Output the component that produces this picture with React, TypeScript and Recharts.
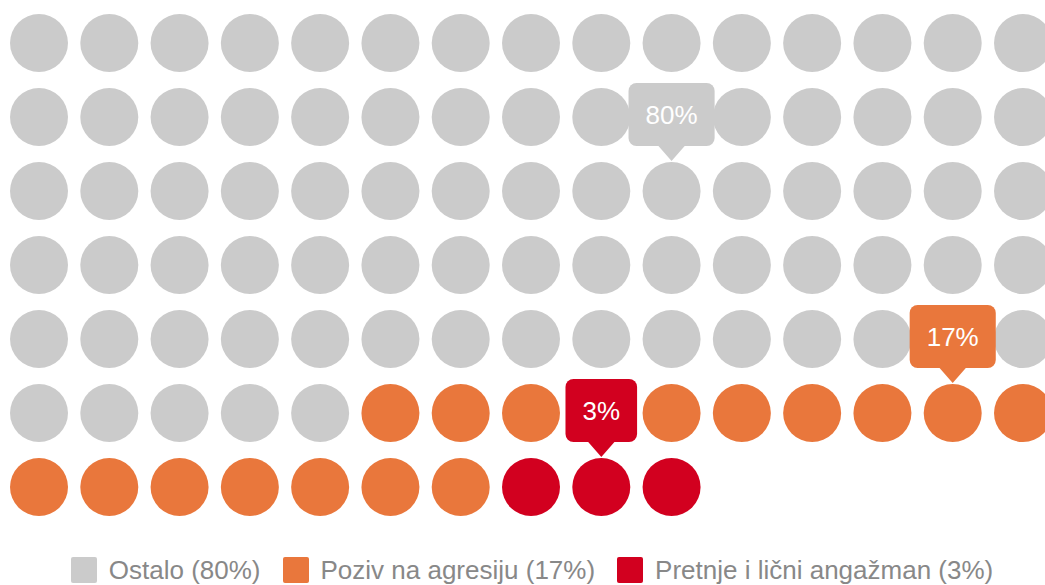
import React from 'react'
import { ScatterChart, Scatter, XAxis, YAxis } from 'recharts'

const categories = ['Ostalo', 'Poziv na agresiju', 'Pretnje i lični angažman']
const values = [80, 17, 3]
const colors = ['#cbcbcb', '#e9773c', '#d2001f']
const COLS = 15
const ROWS = 7

const FONT = '"Liberation Sans", Arial, Helvetica, sans-serif'
const R = 29

type Cell = { x: number; y: number; label?: string }

// lay the units out row by row, one series per category
const series: Cell[][] = (() => {
  const out: Cell[][] = []
  let start = 0
  values.forEach((v) => {
    const mid = start + Math.floor((v - 1) / 2)
    const cells: Cell[] = []
    for (let i = start; i < start + v; i++) {
      cells.push({ x: i % COLS, y: Math.floor(i / COLS), label: i === mid ? `${v}%` : undefined })
    }
    out.push(cells)
    start += v
  })
  return out
})()

function makeShape(color: string) {
  return (props: any) => {
    const { cx, cy, payload } = props
    const circle = <circle cx={cx} cy={cy} r={R} fill={color} />
    if (!payload.label) return circle
    const text: string = payload.label
    const textW = text.replace('%', '').length * 14.5 + 23.1
    const w = textW + 34
    const h = 63
    const tip = cy - R - 1
    const bottom = tip - 15
    const top = bottom - h
    return (
      <g>
        {circle}
        <rect x={cx - w / 2} y={top} width={w} height={h} rx={8} ry={8} fill={color} />
        <polygon points={`${cx - 14},${bottom - 1} ${cx + 14},${bottom - 1} ${cx},${tip}`} fill={color} />
        <text x={cx} y={top + h / 2 + 9.5} textAnchor="middle" fill="#fff" fontSize={26} fontFamily={FONT}>
          {text}
        </text>
      </g>
    )
  }
}

export default function App() {
  return (
    <div style={{ position: 'absolute', left: 0, top: 0, width: 1045, height: 585, overflow: 'hidden', background: '#fff' }}>
      <ScatterChart width={1062} height={540} margin={{ top: 43, right: 39, bottom: 53, left: 39 }}>
        <XAxis type="number" dataKey="x" domain={[0, COLS - 1]} hide />
        <YAxis type="number" dataKey="y" domain={[0, ROWS - 1]} reversed hide />
        {series.map((cells, i) => (
          <Scatter
            key={categories[i]}
            name={categories[i]}
            data={cells}
            fill={colors[i]}
            shape={makeShape(colors[i])}
            isAnimationActive={false}
          />
        ))}
      </ScatterChart>
      <div
        style={{
          position: 'absolute',
          left: 0,
          top: 557,
          width: 1064,
          display: 'flex',
          justifyContent: 'center',
          alignItems: 'center',
          fontFamily: FONT,
          fontSize: 26,
          color: '#888',
          lineHeight: '26px',
        }}
      >
        {categories.map((c, i) => (
          <div key={c} style={{ display: 'flex', alignItems: 'center', marginRight: i < categories.length - 1 ? 22 : 0 }}>
            <span style={{ width: 26, height: 26, background: colors[i], borderRadius: 2, marginRight: 12, display: 'inline-block' }} />
            <span style={{ whiteSpace: 'nowrap' }}>{`${c} (${values[i]}%)`}</span>
          </div>
        ))}
      </div>
    </div>
  )
}
